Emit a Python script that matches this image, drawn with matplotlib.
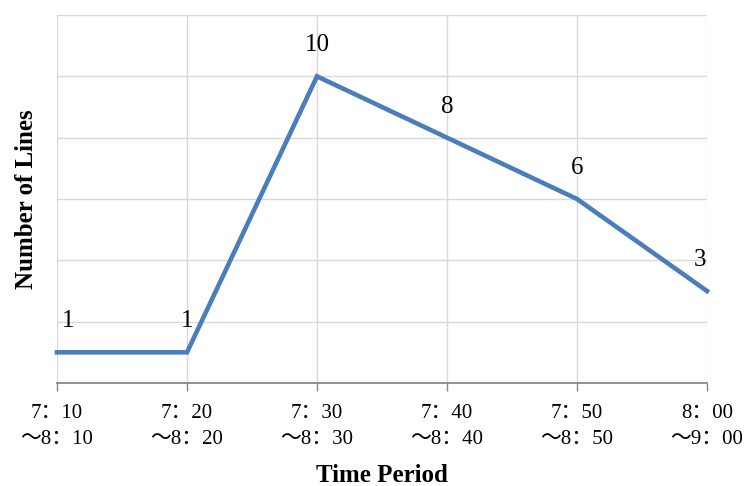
import matplotlib
matplotlib.use("Agg")
import matplotlib.pyplot as plt

categories = ["7：10\n～8：10", "7：20\n～8：20", "7：30\n～8：30",
              "7：40\n～8：40", "7：50\n～8：50", "8：00\n～9：00"]
values = [1, 1, 10, 8, 6, 3]
label_dx = [11, 0, 0, 0, 0, -7]

plt.rcParams['font.family'] = ['Liberation Serif', 'Noto Sans CJK SC', 'DejaVu Sans']

fig = plt.figure(figsize=(7.45, 4.86), dpi=100)
ax = fig.add_axes([57/745, 1-383/486, (707-57)/745, (383-15)/486])

x = list(range(len(categories)))
ax.plot(x, values, color='#4A7EBB', lw=3.3, solid_joinstyle='miter', zorder=3, clip_on=False)
for xi, v, dx in zip(x, values, label_dx):
    ax.annotate(str(v), (xi, v), xytext=(dx, 31), textcoords='offset pixels',
                ha='center', va='center', fontsize=18, color='black')

ax.set_xlim(0, len(categories) - 1)
ax.set_ylim(0, 12)
ax.set_yticks(range(0, 13, 2))
ax.set_yticklabels([])
ax.tick_params(axis='y', length=0)
ax.set_xticks(x)
ax.set_xticklabels(categories, fontsize=15, linespacing=1.5)
ax.tick_params(axis='x', length=6, width=1, color='#888888', pad=9)
ax.grid(True, color='#D9D9D9', lw=1)
ax.set_axisbelow(True)
for s in ['top', 'right', 'left']:
    ax.spines[s].set_visible(False)
ax.spines['bottom'].set_color('#888888')
ax.spines['bottom'].set_linewidth(1.3)

ax.set_xlabel("Time Period", fontsize=18, fontweight='bold', labelpad=11)
ax.set_ylabel("Number of Lines", fontsize=18, fontweight='bold', labelpad=10)

fig.savefig("out.png", dpi=100)
